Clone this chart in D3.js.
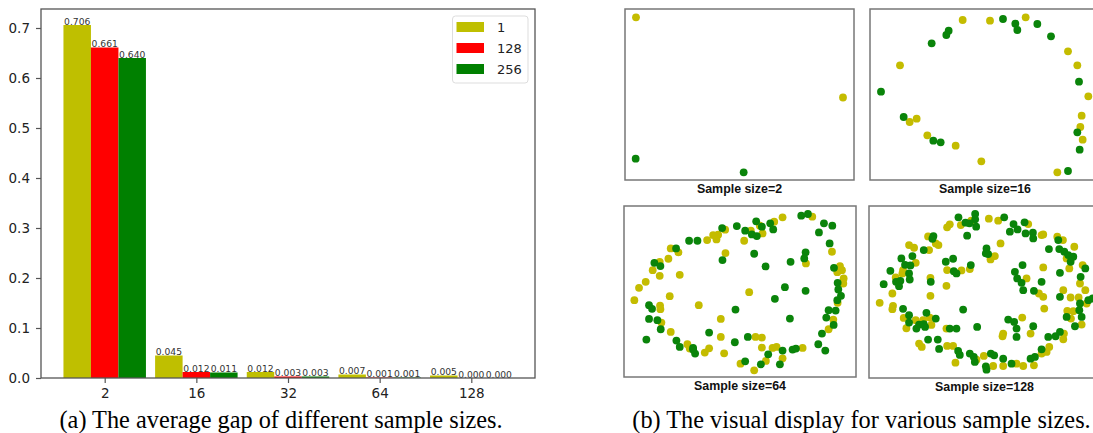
<html>
  <head>
    <style>
      body { margin: 0; background: #fff; }
      svg { display: block; }
    </style>
  </head>
  <body>
    <svg></svg>
    <script src="https://d3js.org/d3.v7.min.js"></script>
    <script>
      let width = 1093,
        height = 433;

      // (a) bar chart data
      const categories = ["2", "16", "32", "64", "128"];
      const seriesNames = ["1", "128", "256"];
      const gap1 = [0.706, 0.045, 0.012, 0.007, 0.005];
      const gap128 = [0.661, 0.012, 0.003, 0.001, 0.0];
      const gap256 = [0.64, 0.011, 0.003, 0.001, 0.0];
      const yTicks = [0, 0.1, 0.2, 0.3, 0.4, 0.5, 0.6, 0.7];

      // (b) embedding points, arbitrary units
      const size2Yellow = [[108, 53], [729, 293]];
      const size2Green = [[107, 476], [431, 517]];

      const size16Yellow = [[308,60],[390,62],[497,52],[624,154],[652,196],[685,289],[665,347],[661,381],[668,419],[592,517],[364,484],[287,437],[202,406],[149,366],[170,356],[120,196]];
      const size16Green = [[429,57],[466,71],[472,90],[532,72],[573,109],[266,92],[259,105],[215,130],[63,275],[131,351],[220,422],[242,427],[657,245],[652,397],[659,449],[624,513]];

      const size64Yellow = [[548,52],[637,50],[696,155],[618,190],[377,159],[480,77],[523,65],[488,100],[453,92],[376,89],[355,104],[350,118],[340,105],[433,122],[322,120],[213,145],[236,157],[206,176],[180,185],[159,210],[180,227],[240,224],[138,245],[118,263],[104,300],[210,288],[297,315],[181,316],[182,327],[185,367],[213,395],[263,432],[270,445],[315,457],[328,444],[373,459],[363,410],[363,356],[448,276],[467,410],[486,412],[486,442],[518,443],[530,440],[548,474],[498,482],[422,490],[463,510],[608,443],[686,387],[700,358],[713,308],[730,250],[731,235],[726,210],[720,198],[712,216]];
      const size64Green = [[604,47],[624,42],[672,70],[697,77],[657,97],[689,130],[617,157],[613,175],[572,185],[497,199],[463,161],[368,180],[469,64],[511,70],[520,88],[486,80],[411,78],[436,92],[456,103],[471,108],[367,84],[293,122],[268,122],[229,145],[164,188],[182,198],[148,315],[157,326],[148,356],[173,360],[183,387],[140,418],[230,421],[240,440],[280,443],[286,460],[280,448],[328,397],[407,328],[405,426],[525,296],[555,261],[617,272],[570,355],[444,410],[548,451],[505,462],[483,492],[436,483],[540,492],[578,448],[588,445],[655,432],[676,451],[666,400],[701,374],[679,352],[686,330],[707,331],[712,300],[723,287],[713,248],[702,203],[715,268]];

      const size128Yellow = [[387,56],[415,62],[505,72],[545,105],[550,103],[303,75],[270,73],[262,82],[334,62],[405,168],[392,178],[422,130],[205,109],[236,135],[228,130],[208,150],[148,135],[163,143],[168,188],[128,220],[108,232],[98,280],[60,308],[100,317],[98,327],[130,210],[262,210],[305,211],[330,207],[212,233],[260,257],[212,287],[132,353],[168,360],[190,360],[210,352],[215,374],[140,384],[260,385],[178,430],[186,440],[262,437],[280,437],[287,487],[350,478],[372,467],[400,497],[430,497],[470,490],[490,497],[522,495],[545,460],[560,455],[568,440],[610,417],[612,400],[428,408],[430,400],[487,352],[512,400],[500,235],[550,202],[537,280],[550,290],[592,110],[609,120],[620,175],[643,140],[628,205],[668,195],[660,250],[676,270],[656,292],[632,292],[610,270],[640,333],[622,332],[633,355],[665,373],[680,310],[553,325]];
      const size128Green = [[346,42],[346,58],[349,80],[433,52],[461,72],[450,95],[473,88],[494,67],[497,100],[519,98],[520,115],[296,52],[317,68],[329,70],[322,107],[380,145],[385,162],[378,160],[221,108],[218,116],[192,150],[158,168],[125,175],[152,196],[136,194],[92,212],[109,245],[122,242],[118,258],[72,252],[148,220],[150,238],[258,185],[282,213],[290,220],[280,176],[333,195],[213,245],[130,326],[148,345],[148,367],[178,373],[192,372],[200,338],[228,355],[196,380],[170,385],[310,328],[352,380],[270,385],[290,385],[205,418],[234,418],[238,446],[295,452],[300,464],[330,460],[342,470],[345,485],[378,498],[393,460],[403,465],[380,508],[430,475],[455,490],[512,475],[525,470],[545,447],[565,410],[587,408],[600,395],[445,358],[470,385],[520,378],[463,365],[465,215],[488,195],[485,248],[490,270],[472,235],[545,245],[522,272],[567,147],[598,147],[613,155],[625,165],[640,170],[632,185],[595,120],[600,218],[676,205],[662,230],[685,300],[698,295],[600,290],[660,310],[658,330],[620,350],[645,378],[665,350],[470,410]];

      let svg = d3.select("svg").attr("width", width).attr("height", height);

      // ---------- (a) bar chart ----------
      const barColors = ["#bfbf00", "#ff0000", "#008000"];
      const series = [gap1, gap128, gap256];
      const barW = 0.3;
      const textColor = "#222";

      let x = d3.scaleLinear().domain([-0.695, 4.695]).range([41, 535]);
      let y = d3.scaleLinear().domain([0, 0.738]).range([378, 9]);

      let bars = svg.append("g").attr("id", "bars");
      series.forEach((vals, s) => {
        let off = (s - 1) * barW;
        bars
          .selectAll(".b" + s)
          .data(vals)
          .enter()
          .append("rect")
          .attr("x", (d, i) => x(i + off - barW / 2))
          .attr("width", x(barW) - x(0))
          .attr("y", (d) => y(d))
          .attr("height", (d) => y(0) - y(d))
          .attr("fill", barColors[s]);

        bars
          .selectAll(".t" + s)
          .data(vals)
          .enter()
          .append("text")
          .attr("x", (d, i) => x(i + off))
          .attr("y", (d) => y(d) - 0.5)
          .attr("text-anchor", "middle")
          .attr("font-family", "DejaVu Sans")
          .attr("font-size", 9.2)
          .attr("fill", "#333")
          .text((d) => d.toFixed(3));
      });

      // frame
      svg
        .append("rect")
        .attr("x", 41)
        .attr("y", 9)
        .attr("width", 494)
        .attr("height", 369)
        .attr("fill", "none")
        .attr("stroke", "#555")
        .attr("stroke-width", 1.3);

      let xAxis = svg
        .append("g")
        .attr("transform", "translate(0,378)")
        .call(
          d3
            .axisBottom(x)
            .tickValues(d3.range(categories.length))
            .tickFormat((i) => categories[i])
            .tickSize(5)
            .tickPadding(5)
        );
      let yAxis = svg
        .append("g")
        .attr("transform", "translate(41,0)")
        .call(
          d3
            .axisLeft(y)
            .tickValues(yTicks)
            .tickFormat(d3.format(".1f"))
            .tickSize(5)
            .tickPadding(6)
        );
      [xAxis, yAxis].forEach((g) => {
        g.select(".domain").remove();
        g.selectAll(".tick line").attr("stroke", "#555").attr("stroke-width", 1.2);
        g.selectAll(".tick text")
          .attr("font-family", "DejaVu Sans")
          .attr("font-size", 13.5)
          .attr("fill", textColor);
      });

      // legend
      let legend = svg.append("g").attr("transform", "translate(452.5,16)");
      legend
        .append("rect")
        .attr("width", 75.5)
        .attr("height", 67)
        .attr("rx", 3)
        .attr("fill", "#fff")
        .attr("stroke", "#ddd");
      seriesNames.forEach((n, i) => {
        legend
          .append("rect")
          .attr("x", 4)
          .attr("y", 6 + i * 21)
          .attr("width", 27.5)
          .attr("height", 10)
          .attr("fill", barColors[i]);
        legend
          .append("text")
          .attr("x", 44.5)
          .attr("y", 11 + i * 21)
          .attr("dy", "0.36em")
          .attr("font-family", "DejaVu Sans")
          .attr("font-size", 13)
          .attr("fill", textColor)
          .text(n);
      });

      // ---------- (b) scatter panels ----------
      const panels = [
        { label: "Sample size=2", box: [625, 9, 854, 180], dx: [75, 762], dy: [28, 540], yel: size2Yellow, grn: size2Green },
        { label: "Sample size=16", box: [870, 9, 1100, 180], dx: [30, 720], dy: [27, 540], yel: size16Yellow, grn: size16Green },
        { label: "Sample size=64", box: [624, 206, 856, 377], dx: [73, 768], dy: [18, 530], yel: size64Yellow, grn: size64Green },
        { label: "Sample size=128", box: [869, 206, 1100, 378], dx: [28, 720], dy: [18, 533], yel: size128Yellow, grn: size128Green },
      ];

      panels.forEach((p) => {
        let [x0, y0, x1, y1] = p.box;
        let px = d3.scaleLinear().domain(p.dx).range([x0, x1]);
        let py = d3.scaleLinear().domain(p.dy).range([y0, y1]);
        let g = svg.append("g");
        g.append("rect")
          .attr("x", x0)
          .attr("y", y0)
          .attr("width", x1 - x0)
          .attr("height", y1 - y0)
          .attr("fill", "#fff")
          .attr("stroke", "#777")
          .attr("stroke-width", 1.5);
        [
          [p.yel, "#c4bc00"],
          [p.grn, "#0a840a"],
        ].forEach(([pts, c]) => {
          g.selectAll(null)
            .data(pts)
            .enter()
            .append("circle")
            .attr("cx", (d) => px(d[0]))
            .attr("cy", (d) => py(d[1]))
            .attr("r", 3.9)
            .attr("fill", c);
        });
        g.append("text")
          .attr("x", (x0 + x1) / 2)
          .attr("y", y1 + 13.3)
          .attr("text-anchor", "middle")
          .attr("font-family", "Liberation Sans")
          .attr("font-weight", "bold")
          .attr("font-size", 12.4)
          .attr("fill", "#111")
          .text(p.label);
      });

      // captions
      const captions = [
        ["(a) The average gap of different sample sizes.", 281],
        ["(b) The visual display for various sample sizes.", 861.5],
      ];
      svg
        .selectAll(".caption")
        .data(captions)
        .enter()
        .append("text")
        .attr("x", (d) => d[1])
        .attr("y", 428)
        .attr("text-anchor", "middle")
        .attr("font-family", "Liberation Serif")
        .attr("font-size", 24.3)
        .attr("fill", "#000")
        .text((d) => d[0]);
    </script>
  </body>
</html>
